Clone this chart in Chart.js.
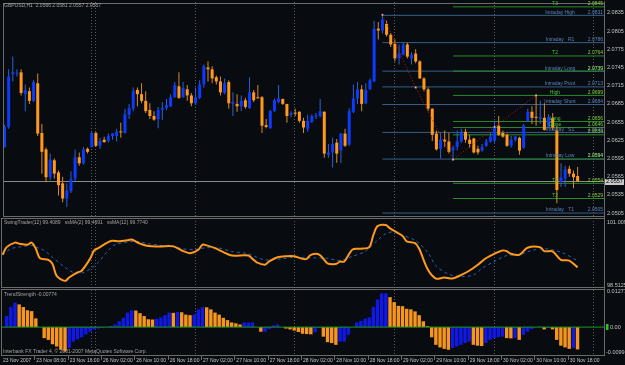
<!DOCTYPE html>
<html>
<head>
<meta charset="utf-8">
<script src="https://cdn.jsdelivr.net/npm/chart.js@4.4.1/dist/chart.umd.min.js"></script>
<style>
    html, body { margin: 0; padding: 0; background: #080b0f; }
    #wrap { position: relative; width: 625px; height: 365px; overflow: hidden; }
    #wrap canvas { position: absolute; left: 0; top: 0; }
</style>
</head>
<body>
<div id="wrap">
    <canvas id="main" width="625" height="365"></canvas>
    <canvas id="swing" width="625" height="365"></canvas>
    <canvas id="trend" width="625" height="365"></canvas>
</div>
<script>
// bar index range shown (chart shift leaves room on the right)
const X_MIN = -0.12, X_MAX = 144.35;

// GBPUSD H1 candles, one per bar
const opens = [2.0614, 2.0647, 2.0734, 2.0735, 2.0737, 2.0701, 2.0706, 2.0690, 2.0719, 2.0637,
    2.0610, 2.0564, 2.0592, 2.0572, 2.0554, 2.0529, 2.0541, 2.0562, 2.0597, 2.0587,
    2.0611, 2.0614, 2.0637, 2.0616, 2.0626, 2.0624, 2.0632, 2.0632, 2.0639, 2.0637,
    2.0667, 2.0677, 2.0708, 2.0701, 2.0690, 2.0675, 2.0665, 2.0660, 2.0675, 2.0678,
    2.0681, 2.0696, 2.0714, 2.0696, 2.0709, 2.0699, 2.0686, 2.0695, 2.0717, 2.0745,
    2.0742, 2.0729, 2.0722, 2.0703, 2.0721, 2.0685, 2.0685, 2.0681, 2.0691, 2.0678,
    2.0704, 2.0696, 2.0696, 2.0650, 2.0645, 2.0673, 2.0688, 2.0693, 2.0685, 2.0667,
    2.0670, 2.0672, 2.0657, 2.0644, 2.0655, 2.0664, 2.0665, 2.0672, 2.0601, 2.0605,
    2.0621, 2.0608, 2.0636, 2.0618, 2.0672, 2.0694, 2.0709, 2.0686, 2.0709, 2.0722,
    2.0809, 2.0806, 2.0817, 2.0799, 2.0784, 2.0760, 2.0766, 2.0783, 2.0760, 2.0768,
    2.0755, 2.0727, 2.0709, 2.0677, 2.0636, 2.0611, 2.0626, 2.0623, 2.0608, 2.0614,
    2.0623, 2.0639, 2.0626, 2.0628, 2.0611, 2.0608, 2.0616, 2.0623, 2.0624, 2.0649,
    2.0637, 2.0634, 2.0616, 2.0626, 2.0629, 2.0613, 2.0657, 2.0672, 2.0663, 2.0660,
    2.0662, 2.0647, 2.0662, 2.0641, 2.0556, 2.0562, 2.0578, 2.0570, 2.0566];
const highs = [2.0650, 2.0742, 2.0763, 2.0742, 2.0742, 2.0717, 2.0712, 2.0724, 2.0735, 2.0652,
    2.0613, 2.0603, 2.0595, 2.0575, 2.0565, 2.0554, 2.0574, 2.0610, 2.0605, 2.0614,
    2.0613, 2.0639, 2.0639, 2.0629, 2.0631, 2.0636, 2.0637, 2.0644, 2.0654, 2.0677,
    2.0685, 2.0712, 2.0712, 2.0719, 2.0706, 2.0686, 2.0673, 2.0680, 2.0688, 2.0693,
    2.0701, 2.0721, 2.0737, 2.0721, 2.0716, 2.0703, 2.0712, 2.0724, 2.0750, 2.0755,
    2.0747, 2.0732, 2.0730, 2.0727, 2.0724, 2.0704, 2.0701, 2.0699, 2.0695, 2.0729,
    2.0708, 2.0716, 2.0698, 2.0660, 2.0675, 2.0694, 2.0716, 2.0694, 2.0685, 2.0673,
    2.0677, 2.0673, 2.0662, 2.0667, 2.0668, 2.0670, 2.0693, 2.0673, 2.0619, 2.0629,
    2.0627, 2.0637, 2.0644, 2.0678, 2.0717, 2.0721, 2.0716, 2.0719, 2.0727, 2.0822,
    2.0820, 2.0832, 2.0822, 2.0802, 2.0791, 2.0783, 2.0786, 2.0786, 2.0770, 2.0775,
    2.0757, 2.0729, 2.0712, 2.0678, 2.0641, 2.0637, 2.0641, 2.0637, 2.0616, 2.0641,
    2.0644, 2.0644, 2.0634, 2.0629, 2.0616, 2.0619, 2.0627, 2.0637, 2.0657, 2.0665,
    2.0641, 2.0636, 2.0632, 2.0632, 2.0631, 2.0652, 2.0677, 2.0681, 2.0699, 2.0690,
    2.0686, 2.0668, 2.0670, 2.0649, 2.0587, 2.0583, 2.0583, 2.0575, 2.0581];
const lows = [2.0613, 2.0644, 2.0722, 2.0730, 2.0699, 2.0673, 2.0685, 2.0688, 2.0632, 2.0570,
    2.0556, 2.0559, 2.0562, 2.0534, 2.0523, 2.0515, 2.0538, 2.0556, 2.0583, 2.0585,
    2.0603, 2.0613, 2.0614, 2.0611, 2.0621, 2.0621, 2.0626, 2.0623, 2.0629, 2.0636,
    2.0660, 2.0673, 2.0681, 2.0686, 2.0670, 2.0660, 2.0657, 2.0645, 2.0659, 2.0675,
    2.0680, 2.0695, 2.0693, 2.0695, 2.0690, 2.0681, 2.0683, 2.0693, 2.0712, 2.0722,
    2.0719, 2.0717, 2.0699, 2.0701, 2.0677, 2.0665, 2.0672, 2.0673, 2.0677, 2.0677,
    2.0688, 2.0695, 2.0637, 2.0645, 2.0644, 2.0672, 2.0686, 2.0683, 2.0654, 2.0663,
    2.0665, 2.0654, 2.0637, 2.0639, 2.0654, 2.0660, 2.0663, 2.0596, 2.0596, 2.0580,
    2.0588, 2.0587, 2.0614, 2.0616, 2.0670, 2.0685, 2.0673, 2.0685, 2.0708, 2.0721,
    2.0791, 2.0801, 2.0796, 2.0779, 2.0755, 2.0750, 2.0765, 2.0760, 2.0750, 2.0752,
    2.0726, 2.0706, 2.0673, 2.0624, 2.0608, 2.0595, 2.0614, 2.0603, 2.0593, 2.0608,
    2.0621, 2.0621, 2.0613, 2.0603, 2.0601, 2.0606, 2.0614, 2.0621, 2.0621, 2.0632,
    2.0629, 2.0614, 2.0613, 2.0623, 2.0601, 2.0611, 2.0655, 2.0652, 2.0649, 2.0652,
    2.0641, 2.0645, 2.0641, 2.0521, 2.0548, 2.0548, 2.0565, 2.0546, 2.0557];
const closes = [2.0647, 2.0730, 2.0737, 2.0736, 2.0703, 2.0708, 2.0690, 2.0721, 2.0636, 2.0606,
    2.0564, 2.0593, 2.0570, 2.0551, 2.0529, 2.0542, 2.0561, 2.0597, 2.0587, 2.0610,
    2.0606, 2.0637, 2.0616, 2.0624, 2.0622, 2.0632, 2.0636, 2.0639, 2.0638, 2.0668,
    2.0678, 2.0706, 2.0701, 2.0690, 2.0673, 2.0665, 2.0659, 2.0675, 2.0678, 2.0683,
    2.0696, 2.0716, 2.0695, 2.0711, 2.0699, 2.0686, 2.0696, 2.0717, 2.0747, 2.0742,
    2.0727, 2.0722, 2.0704, 2.0719, 2.0686, 2.0688, 2.0681, 2.0690, 2.0680, 2.0704,
    2.0691, 2.0694, 2.0649, 2.0647, 2.0673, 2.0691, 2.0694, 2.0685, 2.0665, 2.0670,
    2.0669, 2.0657, 2.0646, 2.0657, 2.0665, 2.0665, 2.0673, 2.0603, 2.0605, 2.0619,
    2.0603, 2.0636, 2.0616, 2.0673, 2.0694, 2.0709, 2.0685, 2.0708, 2.0724, 2.0809,
    2.0806, 2.0824, 2.0799, 2.0783, 2.0760, 2.0768, 2.0783, 2.0763, 2.0766, 2.0755,
    2.0727, 2.0709, 2.0677, 2.0634, 2.0610, 2.0626, 2.0623, 2.0606, 2.0613, 2.0623,
    2.0637, 2.0626, 2.0619, 2.0605, 2.0605, 2.0614, 2.0623, 2.0631, 2.0647, 2.0634,
    2.0631, 2.0616, 2.0626, 2.0631, 2.0608, 2.0649, 2.0672, 2.0662, 2.0662, 2.0663,
    2.0642, 2.0663, 2.0646, 2.0543, 2.0564, 2.0577, 2.0570, 2.0564, 2.0557];

const bidPrice = 2.0557;
const priceTicks = [2.0835, 2.0805, 2.0775, 2.0745, 2.0715, 2.0685, 2.0655, 2.0625, 2.0595, 2.0565, 2.0535, 2.0505];
const priceMin = 2.04985, priceMax = 2.08497;

// time axis: a label every 8 bars
const timeLabelIdx = [0, 8, 16, 24, 32, 40, 48, 56, 64, 72, 80, 88, 96, 104, 112, 120, 128, 136];
const timeLabels = ['23 Nov 2007', '23 Nov 08:00', '23 Nov 16:00', '26 Nov 02:00', '26 Nov 10:00', '26 Nov 18:00',
    '27 Nov 02:00', '27 Nov 10:00', '27 Nov 18:00', '28 Nov 02:00', '28 Nov 10:00', '28 Nov 18:00',
    '29 Nov 02:00', '29 Nov 10:00', '29 Nov 18:00', '30 Nov 02:00', '30 Nov 10:00', '30 Nov 18:00'];
const sepIdx = [21, 22, 46, 70, 94, 118, 142];

// pivot levels
const intradayNames = ['Intraday High', 'Intraday   R1', 'Intraday Long', 'Intraday Pivot', 'Intraday Short', 'Intraday   S1', 'Intraday Low', 'Intraday   T1'];
const intradayValues = [2.0831, 2.0786, 2.0739, 2.0713, 2.0684, 2.0638, 2.0594, 2.0505];
const intradayFrom = 91;
const targetNames = ['T3', 'T2', '', 'High', 'Long', 'Close', '', '', 'T1', 'T2'];
const targetValues = [2.0845, 2.0764, 2.0739, 2.0699, 2.0656, 2.0646, 2.0634, 2.0594, 2.0554, 2.0529];
const targetFrom = 108;

// swing points (red dotted)
const zigzagIdx = [91, 99, 108, 118, 128];
const zigzagVal = [2.0832, 2.0712, 2.0593, 2.0647, 2.0699];

// SwingTrader pane
const swingIdx = [0, 1, 3, 4, 6, 7, 8, 9, 11, 12, 13, 15, 16, 18, 19, 21, 22, 23, 26, 28,
    30, 31, 33, 35, 38, 41, 43, 45, 47, 48, 49, 51, 53, 55, 59, 60, 61, 63, 64, 66,
    68, 70, 72, 73, 74, 76, 78, 80, 81, 82, 84, 86, 88, 89, 90, 92, 93, 96, 97, 99,
    100, 102, 104, 106, 108, 110, 112, 114, 116, 118, 120, 121, 122, 124, 126, 129, 130, 132, 134, 136, 138];
const swingVal = [99.713, 99.992, 100.154, 100.117, 100.080, 100.154, 99.933, 99.588, 99.530, 99.383,
    98.953, 98.770, 98.891, 99.074, 99.137, 99.566, 99.871, 99.955, 100.212, 100.201,
    100.238, 100.264, 100.117, 100.029, 100.018, 100.018, 99.871, 99.772, 99.897, 100.080,
    100.055, 99.955, 99.809, 99.687, 99.687, 99.566, 99.441, 99.357, 99.478, 99.625,
    99.662, 99.662, 99.566, 99.566, 99.713, 99.724, 99.405, 99.383, 99.467, 99.467,
    99.908, 99.933, 99.992, 100.422, 100.752, 100.789, 100.668, 100.396, 100.201, 100.139,
    99.933, 99.199, 98.854, 98.891, 98.854, 98.979, 99.137, 99.346, 99.588, 99.750,
    99.871, 99.845, 99.750, 99.713, 99.970, 99.992, 99.845, 99.834, 99.530, 99.504, 99.258];
const maIdx = [0, 2, 4, 7, 8, 10, 12, 15, 17, 19, 21, 23, 25, 27, 30, 32, 35, 38, 41, 43,
    46, 49, 52, 55, 59, 61, 63, 67, 70, 74, 78, 81, 84, 87, 90, 92, 94, 96, 99, 102,
    104, 107, 110, 113, 115, 118, 121, 124, 127, 130, 134, 138];
const maVal = [99.713, 99.933, 99.992, 100.055, 99.992, 99.871, 99.625, 99.258, 99.074, 99.052,
    99.199, 99.441, 99.809, 100.080, 100.176, 100.201, 100.117, 100.055, 100.029, 99.933,
    99.908, 99.970, 99.955, 99.834, 99.750, 99.625, 99.530, 99.566, 99.625, 99.603,
    99.588, 99.504, 99.662, 99.834, 100.238, 100.484, 100.543, 100.422, 100.238, 99.809,
    99.320, 99.016, 98.928, 98.979, 99.221, 99.467, 99.687, 99.713, 99.871, 99.933, 99.809, 99.504];
const swingMin = 98.5125, swingMax = 101.009;
const swingLegend = 'SwingTrader(12) 99.4089   ssMA(2) 99.4691   ssMA(12) 99.7740';

// TrendStrength pane, one value per bar
const trendVal = [0.0000, 0.0038, 0.0069, 0.0084, 0.0078, 0.0069, 0.0058, 0.0055, 0.0030, 0.0000,
    -0.0038, -0.0044, -0.0059, -0.0067, -0.0078, -0.0084, -0.0072, -0.0050, -0.0042, -0.0035,
    -0.0025, -0.0016, -0.0008, -0.0005, -0.0002, 0.0001, 0.0004, 0.0009, 0.0020, 0.0032,
    0.0050, 0.0058, 0.0057, 0.0048, 0.0038, 0.0027, 0.0026, 0.0029, 0.0033, 0.0041,
    0.0050, 0.0049, 0.0052, 0.0051, 0.0043, 0.0041, 0.0043, 0.0061, 0.0069, 0.0068,
    0.0061, 0.0050, 0.0043, 0.0032, 0.0024, 0.0016, 0.0013, 0.0009, 0.0016, 0.0016,
    0.0016, 0.0000, -0.0016, -0.0016, -0.0007, 0.0006, 0.0009, 0.0000, -0.0005, -0.0008,
    -0.0012, -0.0017, -0.0023, -0.0024, -0.0025, -0.0018, -0.0003, -0.0033, -0.0052, -0.0055,
    -0.0061, -0.0050, -0.0050, -0.0027, 0.0000, 0.0016, 0.0021, 0.0029, 0.0033, 0.0069,
    0.0095, 0.0116, 0.0116, 0.0103, 0.0086, 0.0073, 0.0072, 0.0063, 0.0061, 0.0054,
    0.0041, 0.0020, 0.0003, -0.0035, -0.0061, -0.0070, -0.0075, -0.0078, -0.0072, -0.0067,
    -0.0061, -0.0055, -0.0050, -0.0061, -0.0064, -0.0065, -0.0055, -0.0044, -0.0038, -0.0035,
    -0.0033, -0.0038, -0.0039, -0.0038, -0.0044, -0.0027, -0.0016, -0.0007, 0.0000, 0.0003,
    -0.0008, -0.0003, -0.0008, -0.0044, -0.0064, -0.0070, -0.0075, -0.0072, -0.0077];
const trendMin = -0.00995, trendMax = 0.01277;
const trendLegend = 'TrendStrength -0.00774';

// look
const BLUE = '#0b3bff', ORANGE = '#ff9a1c';
const STEEL = '#3a5f8a', STEEL_TXT = '#5a84b8';
const GREEN = '#2a8a2a', GREEN_TXT = '#44c444', GREEN_VAL = '#8ccf3c';
const FRAME = '#6a6a6a', AXIS_TXT = '#c4c4c4', NOTE_TXT = '#a4a4a4';
const AXIS_FONT = '5.5px "Liberation Sans", Arial, sans-serif';
const SMALL_FONT = '5px "Liberation Sans", Arial, sans-serif';

function baseOptions(pad, yMin, yMax) {
    return {
        responsive: false,
        animation: false,
        events: [],
        layout: { padding: pad },
        plugins: { legend: { display: false }, tooltip: { enabled: false } },
        scales: {
            x: { type: 'linear', min: X_MIN, max: X_MAX, offset: false, bounds: 'data', display: false },
            y: { type: 'linear', min: yMin, max: yMax, beginAtZero: false, bounds: 'data', display: false }
        }
    };
}

function frame(ctx, a) {
    ctx.strokeStyle = FRAME;
    ctx.lineWidth = 1;
    ctx.setLineDash([]);
    ctx.strokeRect(a.left - 0.5, a.top - 0.5, a.right - a.left + 1, a.bottom - a.top);
}

// ---- main price pane ----
const bull = closes.map((c, i) => c > opens[i]);

const levelSets = [];
intradayValues.forEach(v => levelSets.push({
    type: 'line', data: [{ x: intradayFrom, y: v }, { x: X_MAX, y: v }],
    borderColor: STEEL, borderWidth: 1, pointRadius: 0, order: 6
}));
targetValues.forEach(v => levelSets.push({
    type: 'line', data: [{ x: targetFrom, y: v }, { x: X_MAX, y: v }],
    borderColor: GREEN, borderWidth: 1, pointRadius: 0, order: 5
}));

const mainDecor = {
    id: 'mainDecor',
    beforeDatasetsDraw(chart) {
        const ctx = chart.ctx, x = chart.scales.x;
        ctx.save();
        // day separators, through all panes
        ctx.strokeStyle = '#5a5a5a';
        ctx.lineWidth = 1;
        ctx.setLineDash([1, 2]);
        sepIdx.forEach(i => {
            const px = Math.round(x.getPixelForValue(i) - 1) + 0.5;
            ctx.beginPath();
            ctx.moveTo(px, 2);
            ctx.lineTo(px, 355);
            ctx.stroke();
        });
        ctx.restore();
    },
    afterDraw(chart) {
        const ctx = chart.ctx, a = chart.chartArea, y = chart.scales.y;
        ctx.save();
        frame(ctx, a);
        ctx.beginPath();
        ctx.moveTo(a.right + 0.5, 1.5);
        ctx.lineTo(a.right + 0.5, 355.5);
        ctx.stroke();

        // price scale
        ctx.font = AXIS_FONT;
        ctx.fillStyle = AXIS_TXT;
        ctx.textAlign = 'left';
        ctx.textBaseline = 'middle';
        priceTicks.forEach(p => ctx.fillText(p.toFixed(4), 607, y.getPixelForValue(p)));

        // level labels
        ctx.font = SMALL_FONT;
        ctx.textBaseline = 'bottom';
        intradayNames.forEach((n, i) => {
            const py = y.getPixelForValue(intradayValues[i]) - 0.5;
            ctx.fillStyle = STEEL_TXT;
            ctx.textAlign = 'center';
            ctx.fillText(n, 560, py);
            ctx.textAlign = 'right';
            ctx.fillText(intradayValues[i].toFixed(4), 603, py);
        });
        targetNames.forEach((n, i) => {
            const py = y.getPixelForValue(targetValues[i]) - 0.5;
            ctx.fillStyle = GREEN_TXT;
            ctx.textAlign = 'center';
            if (n) ctx.fillText(n, 555, py);
            ctx.fillStyle = GREEN_VAL;
            ctx.textAlign = 'right';
            ctx.fillText(targetValues[i].toFixed(4), 603, py);
        });

        // bid price box
        const by = y.getPixelForValue(bidPrice);
        ctx.fillStyle = '#c8c8c8';
        ctx.fillRect(605, Math.round(by) - 3, 19, 6);
        ctx.fillStyle = '#000';
        ctx.font = AXIS_FONT;
        ctx.textAlign = 'left';
        ctx.textBaseline = 'middle';
        ctx.fillText(bidPrice.toFixed(4), 606, by);

        // symbol line
        const last = opens.length - 1;
        ctx.font = SMALL_FONT;
        ctx.fillStyle = NOTE_TXT;
        ctx.fillText('GBPUSD,H1  ' + [opens[last], highs[last], lows[last], closes[last]].map(v => v.toFixed(4)).join(' '), 4, 5.5);
        ctx.restore();
    }
};

new Chart(document.getElementById('main'), {
    type: 'bar',
    data: {
        datasets: [
            ...levelSets,
            {
                type: 'line', data: [{ x: X_MIN, y: bidPrice }, { x: X_MAX, y: bidPrice }],
                borderColor: '#8c8c8c', borderWidth: 1, pointRadius: 0, order: 4
            },
            {
                data: lows.map((l, i) => ({ x: i, y: [l, highs[i]] })),
                backgroundColor: bull.map(b => b ? '#2a62d8' : '#d98c22'),
                barThickness: 1, grouped: false, inflateAmount: 0, borderWidth: 0, order: 3
            },
            {
                data: opens.map((o, i) => ({ x: i, y: [o, closes[i]] })),
                backgroundColor: bull.map(b => b ? BLUE : ORANGE),
                barThickness: 3, minBarLength: 1, grouped: false, inflateAmount: 0, borderWidth: 0, order: 2
            },
            {
                type: 'line', data: zigzagIdx.map((x, i) => ({ x: x, y: zigzagVal[i] })),
                borderColor: '#c01818', borderWidth: 1, borderDash: [1, 2],
                pointRadius: 1.2, pointStyle: 'rect', pointBackgroundColor: '#ffb4b4', pointBorderWidth: 0, order: 1
            }
        ]
    },
    options: baseOptions({ left: 2, right: 21, top: 2, bottom: 148 }, priceMin, priceMax),
    plugins: [mainDecor]
});

// ---- SwingTrader pane ----
const swingDecor = {
    id: 'swingDecor',
    afterDraw(chart) {
        const ctx = chart.ctx, a = chart.chartArea;
        ctx.save();
        frame(ctx, a);
        ctx.font = AXIS_FONT;
        ctx.fillStyle = AXIS_TXT;
        ctx.textAlign = 'left';
        ctx.textBaseline = 'middle';
        ctx.fillText(String(swingMax), 607, a.top + 3);
        ctx.fillText(String(swingMin), 607, a.bottom - 2.5);
        ctx.font = SMALL_FONT;
        ctx.fillStyle = NOTE_TXT;
        ctx.fillText(swingLegend, 4, 222.5);
        ctx.restore();
    }
};

new Chart(document.getElementById('swing'), {
    type: 'line',
    data: {
        datasets: [
            {
                data: swingIdx.map((x, i) => ({ x: x, y: swingVal[i] })),
                borderColor: '#ff9a1a', borderWidth: 2, pointRadius: 0, tension: 0.3, order: 1
            },
            {
                data: maIdx.map((x, i) => ({ x: x, y: maVal[i] })),
                borderColor: '#2a64b8', borderWidth: 1, borderDash: [3, 3], pointRadius: 0, tension: 0.3, order: 2
            }
        ]
    },
    options: baseOptions({ left: 2, right: 21, top: 219, bottom: 77 }, swingMin, swingMax),
    plugins: [swingDecor]
});

// ---- TrendStrength pane ----
const trendDecor = {
    id: 'trendDecor',
    afterDraw(chart) {
        const ctx = chart.ctx, a = chart.chartArea, x = chart.scales.x, y = chart.scales.y;
        ctx.save();
        frame(ctx, a);
        ctx.font = AXIS_FONT;
        ctx.fillStyle = AXIS_TXT;
        ctx.textAlign = 'left';
        ctx.textBaseline = 'middle';
        ctx.fillText(String(trendMax), 607, a.top + 1.5);
        ctx.fillText(String(trendMin), 606, a.bottom - 3.5);
        const zy = y.getPixelForValue(0);
        ctx.fillText('0.00', 610, zy);
        ctx.fillStyle = '#22c822';
        ctx.fillRect(606, Math.round(zy) - 3, 2.5, 6);

        ctx.font = SMALL_FONT;
        ctx.fillStyle = NOTE_TXT;
        ctx.fillText(trendLegend, 4, 294.8);
        ctx.fillText('Interbank FX Trader 4, \u00a9 2001-2007 MetaQuotes Software Corp.', 3, 351.3);

        // time axis
        ctx.fillStyle = AXIS_TXT;
        ctx.strokeStyle = FRAME;
        ctx.lineWidth = 1;
        timeLabelIdx.forEach((i, k) => {
            const px = Math.max(3, x.getPixelForValue(i) + 0.5);
            ctx.fillText(timeLabels[k], px, 360.7);
            if (k > 0) {
                ctx.beginPath();
                ctx.moveTo(Math.round(px) - 1.5, 356);
                ctx.lineTo(Math.round(px) - 1.5, 360);
                ctx.stroke();
            }
        });
        ctx.restore();
    }
};

new Chart(document.getElementById('trend'), {
    type: 'bar',
    data: {
        datasets: [
            {
                type: 'line', data: [{ x: X_MIN, y: 0 }, { x: X_MAX, y: 0 }],
                borderColor: '#1e9a1e', borderWidth: 1, pointRadius: 0, order: 1
            },
            {
                data: trendVal.map((v, i) => ({ x: i, y: v })),
                // rising bars blue, falling bars orange
                backgroundColor: trendVal.map((v, i) => (i === 0 || v >= trendVal[i - 1]) ? '#1018e8' : '#f7961e'),
                barThickness: 3.4, grouped: false, inflateAmount: 0, borderWidth: 0, order: 2
            }
        ]
    },
    options: baseOptions({ left: 2, right: 21, top: 290, bottom: 9 }, trendMin, trendMax),
    plugins: [trendDecor]
});
</script>
</body>
</html>
